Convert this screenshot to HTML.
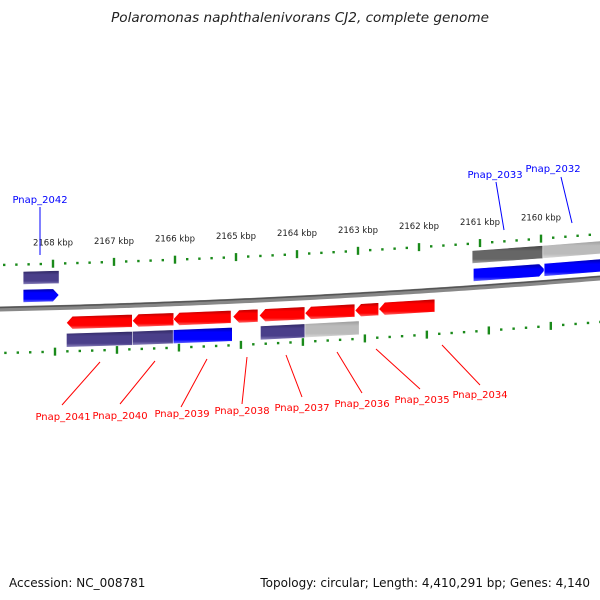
<!DOCTYPE html>
<html><head><meta charset="utf-8"><style>
body{margin:0;background:#fff}
svg{display:block;font-family:"DejaVu Sans","Liberation Sans",sans-serif}
</style></head><body>
<svg id="c" width="600" height="600" viewBox="0 0 600 600">
<defs>
<linearGradient id="gRed" x1="0" y1="0" x2="0" y2="1"><stop offset="0" stop-color="#b00000"/><stop offset="0.3" stop-color="#ff0000"/><stop offset="0.75" stop-color="#ff0000"/><stop offset="1" stop-color="#ff7070"/></linearGradient>
<linearGradient id="gBlue" x1="0" y1="0" x2="0" y2="1"><stop offset="0" stop-color="#0000a0"/><stop offset="0.3" stop-color="#0000ff"/><stop offset="0.75" stop-color="#0000ff"/><stop offset="1" stop-color="#7070ff"/></linearGradient>
<linearGradient id="gPurple" x1="0" y1="0" x2="0" y2="1"><stop offset="0" stop-color="#2e2660"/><stop offset="0.3" stop-color="#4a3f8a"/><stop offset="0.75" stop-color="#4a3f8a"/><stop offset="1" stop-color="#9088c0"/></linearGradient>
<linearGradient id="gDark" x1="0" y1="0" x2="0" y2="1"><stop offset="0" stop-color="#444"/><stop offset="0.3" stop-color="#666"/><stop offset="0.75" stop-color="#666"/><stop offset="1" stop-color="#aaa"/></linearGradient>
<linearGradient id="gLight" x1="0" y1="0" x2="0" y2="1"><stop offset="0" stop-color="#999"/><stop offset="0.3" stop-color="#bbb"/><stop offset="0.75" stop-color="#bbb"/><stop offset="1" stop-color="#ddd"/></linearGradient>
</defs>
<text x="300" y="22" text-anchor="middle" font-size="13.6" font-style="italic" fill="#222">Polaromonas naphthalenivorans CJ2, complete genome</text>
<text x="9" y="587" font-size="12" fill="#111">Accession: NC_008781</text>
<text x="590" y="587" text-anchor="end" font-size="12" fill="#111">Topology: circular; Length: 4,410,291 bp; Genes: 4,140</text>
<g id="g"></g>
</svg>
<script>
// data
const tickKbp = [2168, 2167, 2166, 2165, 2164, 2163, 2162, 2161, 2160];
const geneNames = ["Pnap_2042","Pnap_2042b","Pnap_2033c","Pnap_2032c","Pnap_2033","Pnap_2032","Pnap_2041","Pnap_2040","Pnap_2039","Pnap_2038","Pnap_2037","Pnap_2036","Pnap_2035","Pnap_2034","Pnap_2041c","Pnap_2040c","Pnap_2039c","Pnap_2037c","Pnap_2036c"];
const geneStart = [2168.49,2168.49,2161.13,2159.97,2161.11,2159.95,2167.78,2166.70,2166.03,2165.05,2164.62,2163.87,2163.05,2162.66,2167.78,2166.70,2166.03,2164.60,2163.87];
const geneEnd   = [2167.90,2167.90,2159.97,2158.9,2159.93,2158.9,2166.70,2166.02,2165.08,2164.64,2163.87,2163.05,2162.66,2161.74,2166.70,2166.02,2165.06,2163.85,2162.98];
const geneLane  = [0,1,0,0,1,1,2,2,2,2,2,2,2,2,3,3,3,3,3];
const geneStrand= [0,1,0,0,1,1,-1,-1,-1,-1,-1,-1,-1,-1,0,0,0,0,0];
const geneColor = ["gPurple","gBlue","gDark","gLight","gBlue","gBlue","gRed","gRed","gRed","gRed","gRed","gRed","gRed","gRed","gPurple","gPurple","gBlue","gPurple","gLight"];
const labelNames = ["Pnap_2042","Pnap_2033","Pnap_2032","Pnap_2041","Pnap_2040","Pnap_2039","Pnap_2038","Pnap_2037","Pnap_2036","Pnap_2035","Pnap_2034"];
const labelKbp = [2168.2,2160.7,2159.5,2167.3,2166.4,2165.55,2164.88,2164.25,2163.43,2162.8,2162.17];

const NS='http://www.w3.org/2000/svg';
const g=document.getElementById('g');
function xOf(k){return 53+(2168-k)*61;}
function base(x){return 309-0.0217*x-0.00005*x*x;}
function mk(t,a){const e=document.createElementNS(NS,t);for(const k in a)e.setAttribute(k,a[k]);g.appendChild(e);return e;}

// backbone
let d='';for(let x=-5;x<=605;x+=5){d+=(x===-5?'M':'L')+x+' '+base(x).toFixed(2)+' ';}
const bb1=mk('path',{d:d,stroke:'#888',fill:'none','stroke-width':5});


const bb2=mk('path',{d:d,stroke:'#555',fill:'none','stroke-width':1.5,transform:'translate(0,-1.5)'});



// tick rows
function tickRow(off,scale,name){
  for(let i=-3;i<=60;i++){
    const k=2168.6-i*0.2;
    const x=53+(2168-k)*61*scale+(scale>1?2:0);
    if(x<-2||x>602)continue;
    const y=base(x)+off;
    const major=Math.abs(k-Math.round(k))<0.01;
    const r=mk('rect',{x:x-1.2,y:major?y-4:y-1.2,width:2.4,height:major?8:2.4,fill:'#1a8a1a'});
    
    
  }
}
tickRow(-44,1,'upper-tick');
tickRow(44,1.016,'lower-tick');
tickKbp.forEach(k=>{
  const x=xOf(k);
  const t=mk('text',{x:x,y:base(x)-62,'text-anchor':'middle','font-size':'8.5',fill:'#222'});
  t.textContent=k+' kbp';
  
  
});

// genes
const laneOff=[[-37,-24],[-19,-6],[9,22],[26,40]];
geneNames.forEach((n,i)=>{
  let x1=xOf(geneStart[i]),x2=xOf(geneEnd[i]);
  const [a,b]=laneOff[geneLane[i]];
  const s=geneStrand[i];
  const ah=6;
  let pts=[];
  const xl=s<0?x1+ah:x1, xr=s>0?x2-ah:x2;
  pts.push([xl,base(xl)+a],[xr,base(xr)+a]);
  if(s>0)pts.push([x2,base(x2)+(a+b)/2]);
  pts.push([xr,base(xr)+b],[xl,base(xl)+b]);
  if(s<0)pts.push([x1,base(x1)+(a+b)/2]);
  const p=mk('polygon',{points:pts.map(q=>q[0].toFixed(1)+','+q[1].toFixed(1)).join(' '),fill:'url(#'+geneColor[i]+')',stroke:'#fff','stroke-width':0.6});
  
  
});

// labels
const labelPos=[[40,203,40,207,40,255],[495,178,496,182,504,230],[553,172,561,177,572,223],
[63,420,62,405,100,362],[120,419,120,404,155,361],[182,417,181,407,207,359],[242,414,242,404,247,357],
[302,411,302,397,286,355],[362,407,362,393,337,352],[422,403,420,389,376,349],[480,398,480,385,442,345]];
labelNames.forEach((n,i)=>{
  const L=labelPos[i];const col=i<3?'#0000ff':'#ff0000';
  const ln=mk('line',{x1:L[2],y1:L[3],x2:L[4],y2:L[5],stroke:col,'stroke-width':1});
  
  
  const t=mk('text',{x:L[0],y:L[1],'text-anchor':'middle','font-size':'10',fill:col});
  t.textContent=n;
  
  
});
</script>
</body></html>
